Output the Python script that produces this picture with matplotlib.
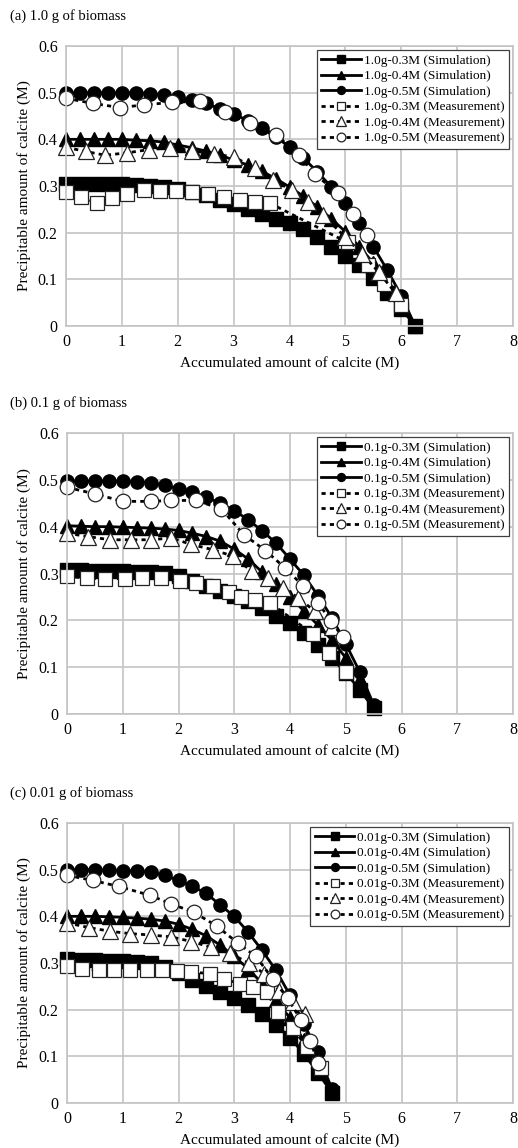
import numpy as np
import matplotlib.pyplot as plt

plt.rcParams['font.family'] = ['Liberation Serif', 'DejaVu Serif']

# ---- (a) 1.0 g of biomass ----
sim_x_a = [0, 0.25, 0.5, 0.75, 1, 1.25, 1.5, 1.75, 2, 2.25, 2.5, 2.75, 3, 3.25, 3.5,
           3.75, 4, 4.25, 4.5, 4.75, 5, 5.25, 5.5, 5.75, 6, 6.25]
sim03_a = [0.305, 0.305, 0.305, 0.305, 0.304, 0.303, 0.301, 0.298, 0.293, 0.287, 0.28, 0.271, 0.262,
           0.251, 0.24, 0.23, 0.22, 0.207, 0.19, 0.17, 0.15, 0.13, 0.102, 0.07, 0.037, 0.0]
sim04_a = [0.40, 0.40, 0.40, 0.40, 0.40, 0.398, 0.397, 0.394, 0.388, 0.382, 0.375, 0.366, 0.356,
           0.345, 0.332, 0.316, 0.298, 0.278, 0.255, 0.23, 0.202, 0.17, 0.135, 0.092, 0.046, 0.0]
sim05_a = [0.50, 0.50, 0.50, 0.50, 0.50, 0.50, 0.498, 0.496, 0.49, 0.484, 0.477, 0.466, 0.455,
           0.44, 0.424, 0.405, 0.384, 0.36, 0.33, 0.298, 0.263, 0.22, 0.17, 0.12, 0.065, 0.0]
mx03_a = [0, 0.26, 0.55, 0.82, 1.09, 1.39, 1.68, 1.96, 2.26, 2.55, 2.82, 3.11, 3.38, 3.65, 5.04, 5.4, 5.7, 6.0]
my03_a = [0.288, 0.277, 0.264, 0.274, 0.283, 0.291, 0.29, 0.29, 0.288, 0.283, 0.277, 0.271, 0.266,
          0.263, 0.179, 0.131, 0.09, 0.045]
mx04_a = [0, 0.35, 0.7, 1.09, 1.48, 1.86, 2.25, 2.64, 3.0, 3.38, 3.71, 4.04, 4.33, 4.6, 5.0, 5.3, 5.6, 5.9]
my04_a = [0.383, 0.374, 0.366, 0.371, 0.378, 0.382, 0.376, 0.368, 0.363, 0.338, 0.313, 0.291, 0.266,
          0.238, 0.19, 0.155, 0.115, 0.07]
mx05_a = [0, 0.48, 0.97, 1.40, 1.89, 2.40, 2.85, 3.29, 3.76, 4.17, 4.45, 4.87, 5.14, 5.38]
my05_a = [0.488, 0.477, 0.468, 0.474, 0.479, 0.482, 0.459, 0.434, 0.41, 0.366, 0.326, 0.284, 0.241, 0.195]

# ---- (b) 0.1 g of biomass ----
sim_x_b = [0, 0.25, 0.5, 0.75, 1, 1.25, 1.5, 1.75, 2, 2.25, 2.5, 2.75, 3, 3.25, 3.5,
           3.75, 4, 4.25, 4.5, 4.75, 5, 5.25, 5.5]
sim03_b = [0.308, 0.307, 0.306, 0.305, 0.305, 0.304, 0.303, 0.301, 0.294, 0.284, 0.274, 0.262,
           0.251, 0.241, 0.226, 0.209, 0.194, 0.173, 0.148, 0.12, 0.088, 0.052, 0.012]
sim04_b = [0.402, 0.401, 0.40, 0.40, 0.399, 0.398, 0.397, 0.395, 0.392, 0.386, 0.379, 0.369,
           0.352, 0.331, 0.303, 0.277, 0.25, 0.22, 0.19, 0.158, 0.12, 0.075, 0.015]
sim05_b = [0.497, 0.497, 0.497, 0.497, 0.497, 0.496, 0.494, 0.488, 0.481, 0.473, 0.463, 0.45,
           0.434, 0.415, 0.391, 0.365, 0.331, 0.296, 0.253, 0.206, 0.15, 0.09, 0.02]
mx03_b = [0, 0.35, 0.69, 1.04, 1.35, 1.69, 2.02, 2.32, 2.62, 2.91, 3.13, 3.37, 3.64, 4.42, 4.7, 5.0]
my03_b = [0.294, 0.29, 0.289, 0.289, 0.29, 0.29, 0.285, 0.28, 0.273, 0.26, 0.249, 0.244, 0.237,
          0.17, 0.13, 0.09]
mx04_b = [0, 0.37, 0.77, 1.14, 1.51, 1.87, 2.23, 2.61, 2.98, 3.31, 3.61, 3.88, 4.15, 4.45, 4.75]
my04_b = [0.386, 0.379, 0.372, 0.372, 0.372, 0.376, 0.362, 0.351, 0.337, 0.305, 0.29, 0.269, 0.248,
          0.219, 0.185]
mx05_b = [0, 0.5, 1.0, 1.5, 1.87, 2.31, 2.77, 3.17, 3.56, 3.91, 4.23, 4.51, 4.73, 4.95]
my05_b = [0.484, 0.47, 0.454, 0.454, 0.456, 0.456, 0.438, 0.383, 0.349, 0.312, 0.274, 0.237, 0.199, 0.164]

# ---- (c) 0.01 g of biomass ----
sim_x_c = [0, 0.25, 0.5, 0.75, 1, 1.25, 1.5, 1.75, 2, 2.25, 2.5, 2.75, 3, 3.25, 3.5,
           3.75, 4, 4.25, 4.5, 4.75]
sim03_c = [0.308, 0.307, 0.306, 0.305, 0.304, 0.302, 0.299, 0.292, 0.278, 0.264, 0.25, 0.237,
           0.224, 0.21, 0.19, 0.167, 0.14, 0.105, 0.065, 0.022]
sim04_c = [0.40, 0.40, 0.40, 0.399, 0.398, 0.396, 0.394, 0.39, 0.383, 0.372, 0.358, 0.338,
           0.314, 0.288, 0.256, 0.22, 0.182, 0.134, 0.082, 0.025]
sim05_c = [0.50, 0.50, 0.50, 0.499, 0.498, 0.497, 0.495, 0.488, 0.477, 0.464, 0.449, 0.424,
           0.40, 0.366, 0.327, 0.284, 0.231, 0.17, 0.109, 0.03]
mx03_c = [0, 0.27, 0.57, 0.85, 1.13, 1.43, 1.71, 1.97, 2.23, 2.56, 2.81, 3.1, 3.33, 3.58, 3.78, 4.05, 4.3, 4.55]
my03_c = [0.293, 0.288, 0.284, 0.284, 0.284, 0.284, 0.284, 0.283, 0.281, 0.277, 0.266, 0.256, 0.249,
          0.238, 0.195, 0.16, 0.12, 0.075]
mx04_c = [0, 0.39, 0.77, 1.13, 1.5, 1.87, 2.23, 2.58, 2.92, 3.26, 3.54, 3.81, 4.05, 4.27]
my04_c = [0.386, 0.376, 0.368, 0.363, 0.36, 0.356, 0.346, 0.334, 0.321, 0.3, 0.277, 0.241, 0.216, 0.19]
mx05_c = [0, 0.46, 0.93, 1.49, 1.86, 2.27, 2.69, 3.06, 3.39, 3.69, 3.96, 4.2, 4.36, 4.51]
my05_c = [0.488, 0.477, 0.464, 0.445, 0.427, 0.409, 0.379, 0.343, 0.314, 0.266, 0.224, 0.177, 0.133, 0.086]

titles = ['(a) 1.0 g of biomass', '(b) 0.1 g of biomass', '(c) 0.01 g of biomass']
biomass = ['1.0g', '0.1g', '0.01g']
conc = ['0.3M', '0.4M', '0.5M']
markers = ['s', '^', 'o']
x_ticks = [0, 1, 2, 3, 4, 5, 6, 7, 8]
y_ticks = [0, 0.1, 0.2, 0.3, 0.4, 0.5, 0.6]
y_tick_labels = ['0', '0.1', '0.2', '0.3', '0.4', '0.5', '0.6']

# pixel boxes of the plot areas (left, top, right, bottom) and title heights
W, H = 518, 1148
boxes = [(66, 46, 513, 326), (67, 433, 513, 714), (67, 823, 513, 1103)]
title_y = [16, 403, 793]

panels = [
    (sim_x_a, [sim03_a, sim04_a, sim05_a], [(mx03_a, my03_a), (mx04_a, my04_a), (mx05_a, my05_a)]),
    (sim_x_b, [sim03_b, sim04_b, sim05_b], [(mx03_b, my03_b), (mx04_b, my04_b), (mx05_b, my05_b)]),
    (sim_x_c, [sim03_c, sim04_c, sim05_c], [(mx03_c, my03_c), (mx04_c, my04_c), (mx05_c, my05_c)]),
]

fig = plt.figure(figsize=(W / 100, H / 100), dpi=100)

for i, (sx, sims, meas) in enumerate(panels):
    l, t, r, b = boxes[i]
    ax = fig.add_axes([l / W, 1 - b / H, (r - l) / W, (b - t) / H])

    for k in range(3):
        ax.plot(sx, sims[k], color='black', lw=2, marker=markers[k], ms=9.5 if k != 1 else 10.5,
                mfc='black', mec='black', clip_on=False,
                label=f'{biomass[i]}-{conc[k]} (Simulation)')
    for k in range(3):
        ax.plot(meas[k][0], meas[k][1], color='black', lw=2, ls=(0, (1.5, 1.5)), marker=markers[k],
                ms=10.5 if k != 1 else 11.5, mfc='white', mec='#222222', mew=0.9, clip_on=False,
                label=f'{biomass[i]}-{conc[k]} (Measurement)')

    ax.set_xlim(0, 8)
    ax.set_ylim(0, 0.6)
    ax.set_xticks(x_ticks)
    ax.set_yticks(y_ticks)
    ax.set_yticklabels(y_tick_labels)
    ax.grid(True, color='#c4c4c4', lw=1.2)
    ax.set_axisbelow(True)
    for sp in ax.spines.values():
        sp.set_color('#c4c4c4')
        sp.set_linewidth(1.2)
    ax.tick_params(length=0, labelsize=11.5, pad=6)

    ax.set_xlabel('Accumulated amount of calcite (M)', fontsize=11)
    ax.set_ylabel('Precipitable amount of calcite (M)', fontsize=11)
    ax.xaxis.label.set_va('center')
    ax.yaxis.label.set_va('center')
    ax.xaxis.set_label_coords(0.5, -37 / (b - t))
    ax.yaxis.set_label_coords((24 - l) / (r - l), 0.5)

    leg = ax.legend(loc='upper right', fontsize=9.5, fancybox=False, edgecolor='#404040',
                    framealpha=1, handlelength=3, markerscale=0.6, labelspacing=0.25,
                    borderaxespad=0.3, handletextpad=0.2, borderpad=0.35)
    leg.get_frame().set_linewidth(0.9)

    fig.text(10 / W, 1 - title_y[i] / H, titles[i], ha='left', va='center', fontsize=10.5)

fig.savefig('out.png', dpi=100)
